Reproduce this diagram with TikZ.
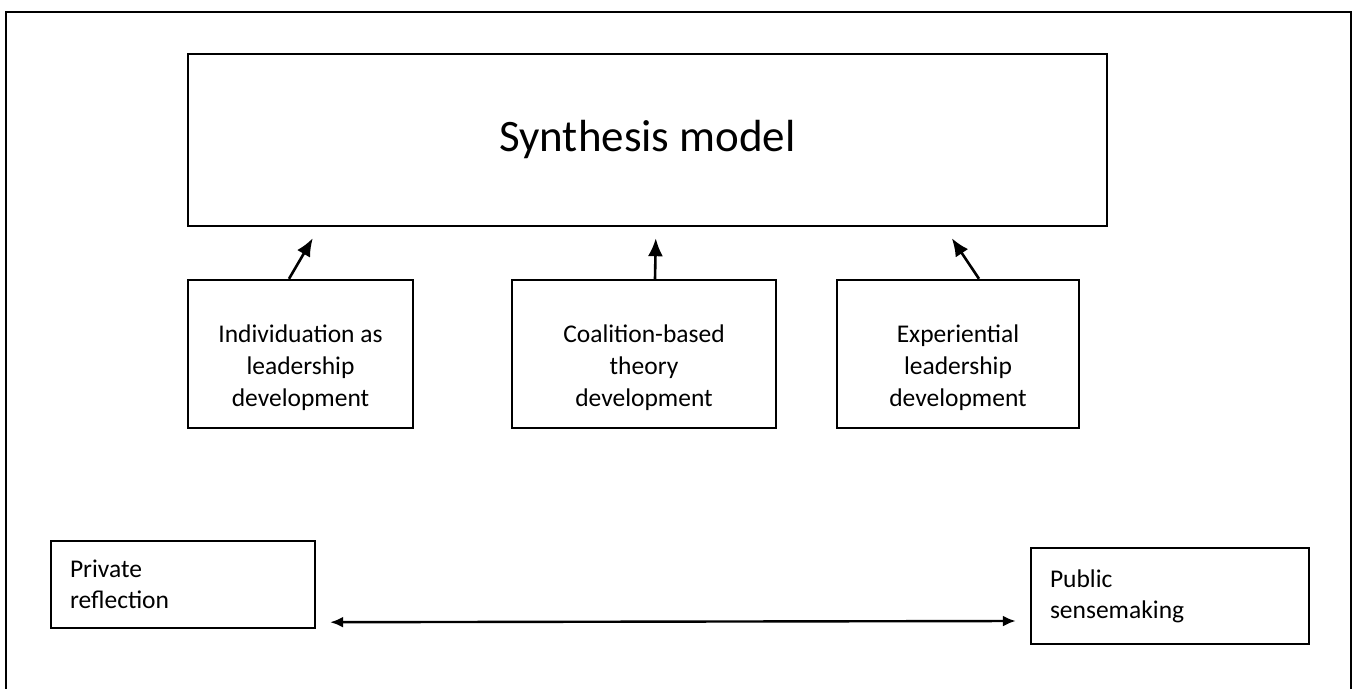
\documentclass[tikz,border=0pt]{standalone}
\usepackage{fontspec}
\setmainfont{Carlito}
\usetikzlibrary{arrows.meta,calc}
\begin{document}
\begin{tikzpicture}[x=1pt,y=-1pt,
  box/.style={draw=black,line width=2.4pt,inner sep=0pt},
  txt/.style={inner sep=0pt,align=center,font=\fontsize{25.5}{32}\selectfont},
  lbox/.style={draw=black,line width=2.4pt,inner sep=0pt,align=left,font=\fontsize{25.5}{31}\selectfont},
  up/.style={line width=2.6pt,-{Latex[length=18pt,width=15pt]}},
  both/.style={line width=2.4pt,{Latex[length=13pt,width=11pt]}-{Latex[length=13pt,width=11pt]}}]
\useasboundingbox (0,0) rectangle (1357,688);
\draw[line width=2.4pt] (6,692) -- (6,12) -- (1351,12) -- (1351,692);
\node[box,minimum width=919pt,minimum height=172pt,font=\fontsize{45}{54}\selectfont] (synth) at (647.5,140) {Synthesis model};
\node[box,minimum width=225pt,minimum height=148pt] (b1) at (300.5,354) {};
\node[box,minimum width=264pt,minimum height=148pt] (b2) at (644,354) {};
\node[box,minimum width=242pt,minimum height=148pt] (b3) at (958,354) {};
\node[txt] (t1txt) at ($(b1)+(0,14)$) {Individuation as\\leadership\\development};
\node[txt] (t2txt) at ($(b2)+(0,14)$) {Coalition-based\\theory\\development};
\node[txt] (t3txt) at ($(b3)+(0,14)$) {Experiential\\leadership\\development};
\node[lbox,minimum width=264pt,minimum height=87pt,text width=226pt] (pr) at (183,584.5) {Private\\reflection};
\node[lbox,minimum width=278pt,minimum height=96pt,text width=240pt] (pu) at (1170,596) {Public\\sensemaking};
\coordinate (t1) at ($(synth.south west)+(126,11)$);
\coordinate (t2) at ($(synth.south west)+(469,11)$);
\coordinate (t3) at ($(synth.south west)+(765,11)$);
\draw[up] ($(b1.north)+(-11.5,0)$) -- (t1);
\draw[up] ($(b2.north)+(11,0)$) -- (t2);
\draw[up] ($(b3.north)+(21,0)$) -- (t3);
\draw[both] ($(pr.south east)+(14,-7)$) -- ($(pu.west)+(-14,25)$);
\end{tikzpicture}
\end{document}
